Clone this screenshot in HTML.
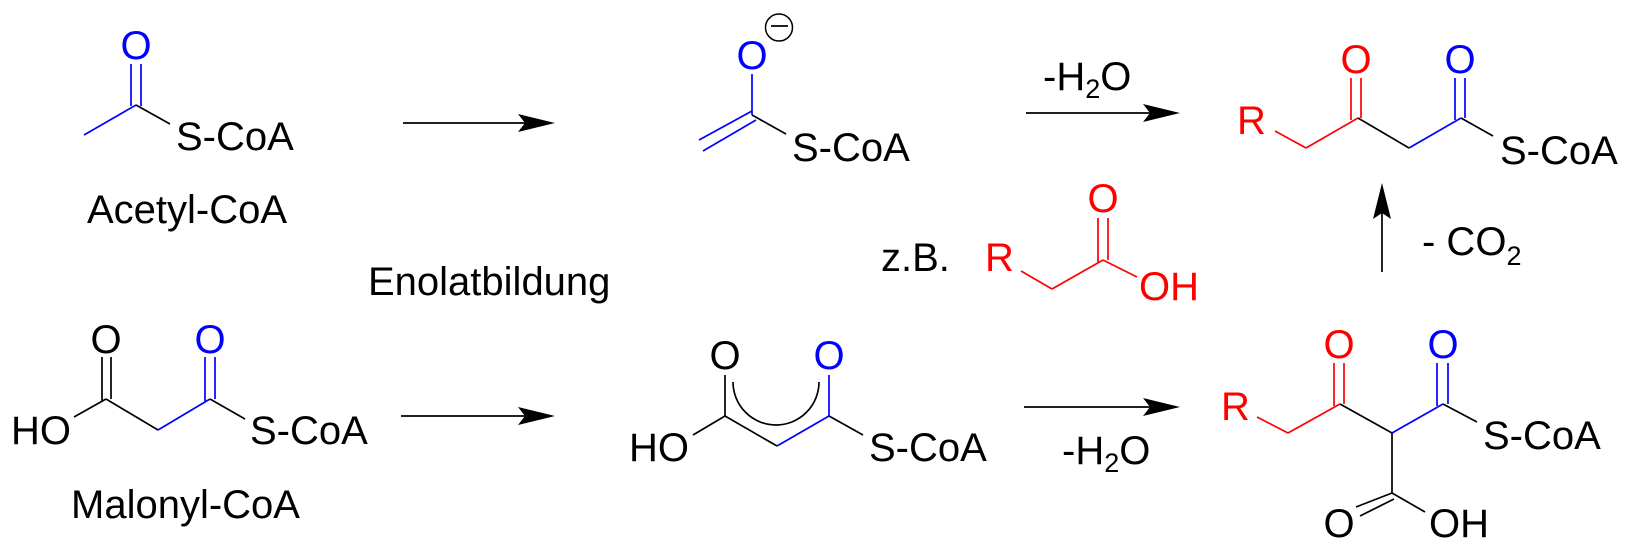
<!DOCTYPE html>
<html><head><meta charset="utf-8"><style>
html,body{margin:0;padding:0;background:#fff;}
svg{display:block;}
text{font-family:"Liberation Sans",Arial,sans-serif;font-size:40px;}
.k{stroke:#000}.b{stroke:#0000ff}.r{stroke:#ff0000}
line,path.l{stroke-width:1.7;fill:none;stroke-linecap:butt}
</style></head><body>
<svg width="1631" height="550" viewBox="0 0 1631 550" xmlns="http://www.w3.org/2000/svg">
<!-- Acetyl-CoA -->
<line class="b" x1="84" y1="135" x2="136" y2="105"/>
<line class="b" x1="131" y1="64" x2="131" y2="106"/>
<line class="b" x1="141" y1="64" x2="141" y2="106"/>
<line class="k" x1="136" y1="105" x2="170" y2="124"/>
<text x="136" y="59" fill="#0000ff" text-anchor="middle">O</text>
<text x="176" y="150">S-CoA</text>
<text x="87" y="223">Acetyl-CoA</text>

<!-- arrows left -->
<line class="k" x1="403" y1="123" x2="540" y2="123"/>
<path d="M555 123 L518 114 L525 123 L518 132 Z" fill="#000"/>
<line class="k" x1="401" y1="416" x2="540" y2="416"/>
<path d="M555 416 L518 407 L525 416 L518 425 Z" fill="#000"/>
<text x="368" y="295">Enolatbildung</text>

<!-- Malonyl-CoA -->
<line class="k" x1="74" y1="417" x2="106" y2="399"/>
<line class="k" x1="102" y1="357" x2="102" y2="401"/>
<line class="k" x1="111" y1="357" x2="111" y2="399"/>
<line class="k" x1="106" y1="399" x2="158" y2="430"/>
<line class="b" x1="158" y1="430" x2="210" y2="399"/>
<line class="b" x1="205" y1="357" x2="205" y2="401"/>
<line class="b" x1="215" y1="357" x2="215" y2="399"/>
<line class="k" x1="210" y1="399" x2="245" y2="419"/>
<text x="106" y="353" text-anchor="middle">O</text>
<text x="210" y="353" fill="#0000ff" text-anchor="middle">O</text>
<text x="11" y="444">HO</text>
<text x="250" y="444">S-CoA</text>
<text x="71" y="518">Malonyl-CoA</text>

<!-- Enolate -->
<line class="b" x1="752" y1="74" x2="752" y2="115"/>
<line class="b" x1="752" y1="111" x2="699" y2="140"/>
<line class="b" x1="756" y1="120" x2="703" y2="151"/>
<line class="k" x1="752" y1="115" x2="786" y2="134"/>
<text x="752" y="69" fill="#0000ff" text-anchor="middle">O</text>
<circle cx="779" cy="27.5" r="13.5" fill="none" stroke="#000" stroke-width="1.5"/>
<line class="k" x1="771" y1="26" x2="788" y2="26"/>
<text x="792" y="161">S-CoA</text>

<!-- bottom enol -->
<line class="k" x1="693" y1="435" x2="725" y2="416"/>
<line class="k" x1="725" y1="375" x2="725" y2="416"/>
<line class="k" x1="725" y1="416" x2="777" y2="446"/>
<line class="b" x1="777" y1="446" x2="829" y2="416"/>
<line class="b" x1="829" y1="375" x2="829" y2="416"/>
<line class="k" x1="829" y1="416" x2="863" y2="435"/>
<path class="l k" d="M733 382 A43 43 0 0 0 819 382"/>
<text x="725" y="369" text-anchor="middle">O</text>
<text x="829" y="369" fill="#0000ff" text-anchor="middle">O</text>
<text x="629" y="461">HO</text>
<text x="869" y="461">S-CoA</text>

<!-- middle arrows -->
<line class="k" x1="1026" y1="113" x2="1165" y2="113"/>
<path d="M1180 113 L1143 104 L1150 113 L1143 122 Z" fill="#000"/>
<text x="1043" y="90">-H<tspan font-size="27" dy="8">2</tspan><tspan dy="-8">O</tspan></text>
<line class="k" x1="1024" y1="407" x2="1165" y2="407"/>
<path d="M1180 407 L1143 398 L1150 407 L1143 416 Z" fill="#000"/>
<text x="1062" y="464">-H<tspan font-size="27" dy="8">2</tspan><tspan dy="-8">O</tspan></text>

<!-- z.B. acid -->
<text x="881" y="271">z.B.</text>
<text x="985" y="271" fill="#ff0000">R</text>
<line class="r" x1="1021" y1="271" x2="1052" y2="289"/>
<line class="r" x1="1052" y1="289" x2="1103" y2="260"/>
<line class="r" x1="1098" y1="218" x2="1098" y2="262"/>
<line class="r" x1="1108" y1="218" x2="1108" y2="260"/>
<line class="r" x1="1103" y1="260" x2="1137" y2="277"/>
<text x="1103" y="212" fill="#ff0000" text-anchor="middle">O</text>
<text x="1139" y="300" fill="#ff0000">OH</text>

<!-- top product -->
<text x="1237" y="134" fill="#ff0000">R</text>
<line class="r" x1="1275" y1="131" x2="1306" y2="148"/>
<line class="r" x1="1306" y1="148" x2="1358" y2="118"/>
<line class="r" x1="1351" y1="78" x2="1351" y2="120"/>
<line class="r" x1="1361" y1="78" x2="1361" y2="118"/>
<line class="k" x1="1358" y1="118" x2="1409" y2="148"/>
<line class="b" x1="1409" y1="148" x2="1461" y2="118"/>
<line class="b" x1="1455" y1="78" x2="1455" y2="120"/>
<line class="b" x1="1465" y1="78" x2="1465" y2="118"/>
<line class="k" x1="1461" y1="118" x2="1493" y2="136"/>
<text x="1356" y="73" fill="#ff0000" text-anchor="middle">O</text>
<text x="1460" y="73" fill="#0000ff" text-anchor="middle">O</text>
<text x="1500" y="164">S-CoA</text>

<!-- vertical arrow -->
<line class="k" x1="1382" y1="272" x2="1382" y2="200"/>
<path d="M1382 183 L1373 219 L1382 213 L1391 219 Z" fill="#000"/>
<text x="1422" y="255">- CO<tspan font-size="27" dy="10">2</tspan></text>

<!-- bottom product -->
<text x="1221" y="420" fill="#ff0000">R</text>
<line class="r" x1="1257" y1="417" x2="1288" y2="433"/>
<line class="r" x1="1288" y1="433" x2="1340" y2="404"/>
<line class="r" x1="1334" y1="363" x2="1334" y2="406"/>
<line class="r" x1="1344" y1="363" x2="1344" y2="404"/>
<line class="k" x1="1340" y1="404" x2="1392" y2="433"/>
<line class="b" x1="1392" y1="433" x2="1443" y2="404"/>
<line class="b" x1="1437" y1="363" x2="1437" y2="406"/>
<line class="b" x1="1448" y1="363" x2="1448" y2="404"/>
<line class="k" x1="1443" y1="404" x2="1477" y2="422"/>
<text x="1339" y="358" fill="#ff0000" text-anchor="middle">O</text>
<text x="1443" y="358" fill="#0000ff" text-anchor="middle">O</text>
<text x="1483" y="449">S-CoA</text>
<line class="k" x1="1392" y1="433" x2="1392" y2="493"/>
<line class="k" x1="1392" y1="493" x2="1356" y2="507"/>
<line class="k" x1="1394" y1="499" x2="1360" y2="516"/>
<line class="k" x1="1392" y1="493" x2="1425" y2="512"/>
<text x="1339" y="537" text-anchor="middle">O</text>
<text x="1429" y="537">OH</text>
</svg>
</body></html>
